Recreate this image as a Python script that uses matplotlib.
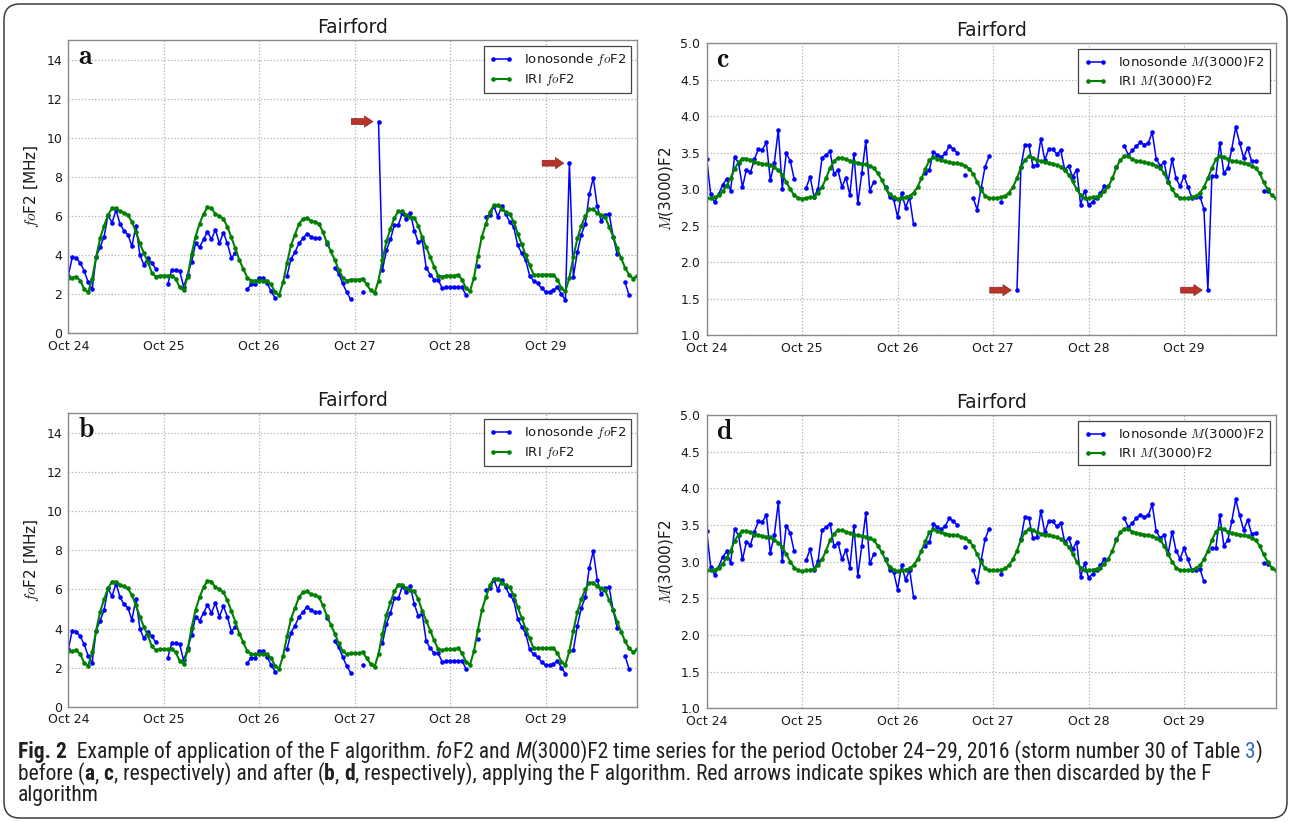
import numpy as np
import matplotlib
matplotlib.use('Agg')
import matplotlib.pyplot as plt
import matplotlib.dates as mdates
from matplotlib import font_manager as fm
from matplotlib.patches import FancyBboxPatch
from matplotlib.ticker import FormatStrFormatter

nan = np.nan

# hourly time axis, Oct 24 00:00 - Oct 29 23:00 2016
times = np.arange(np.datetime64('2016-10-24T00:00'), np.datetime64('2016-10-30T00:00'),
                  np.timedelta64(1, 'h'))
day_ticks = np.arange(np.datetime64('2016-10-24'), np.datetime64('2016-10-30'), np.timedelta64(1, 'D'))

# ionosonde foF2 [MHz] (before the F algorithm)
fof2_iono = [
    2.95, 3.9, 3.85, 3.6, 3.2, 2.6, 2.25, 3.9, 4.4, 4.95, 6.05, 5.65, 6.3, 5.6, 5.25, 5.05, 4.45, 5.5, 4.0, 3.5, 3.85, 3.6, 3.3, nan,
    nan, 2.5, 3.24, 3.24, 3.2, 2.38, 3.0, 3.66, 4.6, 4.4, 4.8, 5.2, 4.8, 5.3, 4.6, 5.15, 4.6, 3.85, 4.1, nan, nan, 2.25, 2.5, 2.5,
    2.85, 2.85, 2.55, 2.15, 1.8, nan, nan, 2.95, 3.8, 4.15, 4.6, 4.85, 5.1, 4.95, 4.85, 4.85, nan, 4.55, nan, 3.35, 3.05, 2.55, 2.1, 1.75,
    nan, nan, 2.13, nan, nan, nan, 10.83, 3.25, 4.25, 4.8, 5.55, 5.55, 6.15, 5.85, 6.15, 5.25, 4.65, 4.75, 3.35, 3.0, 2.75, 2.75, 2.3, 2.35,
    2.35, 2.35, 2.35, 2.35, 1.95, nan, nan, 3.45, nan, 5.97, 6.05, 6.5, 5.97, 6.5, 6.1, 5.7, 5.45, 4.5, 4.1, 3.75, 2.95, 2.68, 2.55, 2.3,
    2.13, 2.13, 2.2, 2.35, 2.0, 1.7, 8.7, 2.9, 4.15, 5.05, 5.6, 7.1, 7.95, 6.5, 5.75, 6.05, 6.1, 4.95, 4.05, nan, 2.6, 1.95, nan, nan,
]

# IRI foF2 [MHz]
fof2_iri = [
    2.85, 2.85, 2.9, 2.7, 2.25, 2.1, 2.8, 3.9, 4.85, 5.5, 6.05, 6.4, 6.4, 6.25, 6.15, 6.05, 5.7, 5.2, 4.6, 4.1, 3.65, 3.1, 2.9, 2.95,
    2.95, 2.95, 2.95, 2.8, 2.35, 2.2, 2.9, 4.05, 4.95, 5.6, 6.1, 6.45, 6.4, 6.1, 6.0, 5.85, 5.45, 4.9, 4.35, 3.75, 3.3, 2.85, 2.7, 2.7,
    2.7, 2.7, 2.7, 2.5, 2.1, 1.95, 2.6, 3.6, 4.5, 5.05, 5.6, 5.85, 5.9, 5.75, 5.7, 5.6, 5.2, 4.65, 4.2, 3.75, 3.25, 2.85, 2.7, 2.75,
    2.75, 2.75, 2.8, 2.5, 2.2, 2.05, 2.7, 3.75, 4.7, 5.35, 5.9, 6.25, 6.25, 6.05, 5.95, 5.9, 5.5, 4.9, 4.4, 3.9, 3.4, 2.95, 2.9, 2.95,
    2.95, 2.95, 3.0, 2.75, 2.3, 2.15, 2.85, 3.95, 4.95, 5.6, 6.2, 6.55, 6.55, 6.35, 6.2, 6.1, 5.7, 5.1, 4.55, 4.0, 3.5, 3.0, 3.0, 3.0,
    3.0, 3.0, 3.0, 2.75, 2.3, 2.15, 2.85, 3.9, 4.85, 5.5, 6.0, 6.35, 6.35, 6.15, 6.05, 5.95, 5.45, 4.95, 4.35, 3.85, 3.35, 3.0, 2.8, 2.95,
]

# ionosonde M(3000)F2 (before the F algorithm)
m3000_iono = [
    3.42, 2.93, 2.82, 2.93, 3.06, 3.14, 2.98, 3.44, 3.36, 3.03, 3.27, 3.23, 3.41, 3.55, 3.54, 3.64, 3.12, 3.36, 3.81, 3.01, 3.49, 3.39, 3.14, nan,
    nan, 3.02, 3.17, 2.89, 3.01, 3.43, 3.47, 3.52, 3.21, 3.26, 3.03, 3.16, 2.92, 3.48, 2.81, 3.22, 3.66, 2.98, 3.10, nan, nan, 3.03, 2.89, 2.86,
    2.62, 2.95, 2.75, 2.89, 2.52, nan, nan, 3.22, 3.27, 3.51, 3.47, 3.44, 3.49, 3.59, 3.55, 3.50, nan, 3.20, nan, 2.88, 2.72, 3.02, 3.31, 3.45,
    nan, nan, 2.83, nan, nan, nan, 1.62, 3.31, 3.61, 3.60, 3.32, 3.33, 3.69, 3.40, 3.55, 3.55, 3.48, 3.53, 3.27, 3.32, 3.17, 3.27, 2.79, 2.98,
    2.78, 2.83, 2.88, 2.95, 3.04, nan, nan, 3.31, nan, 3.59, 3.47, 3.53, 3.59, 3.64, 3.61, 3.63, 3.78, 3.42, 3.32, 3.37, 3.10, 3.41, 3.15, 3.04,
    3.18, 3.03, 2.88, 2.89, 2.90, 2.73, 1.62, 3.18, 3.18, 3.63, 3.22, 3.29, 3.55, 3.85, 3.63, 3.43, 3.57, 3.38, 3.39, nan, 2.98, 2.97, nan, nan,
]

# IRI M(3000)F2
m3000_iri = [
    2.88, 2.88, 2.89, 2.92, 2.97, 3.05, 3.15, 3.28, 3.37, 3.42, 3.42, 3.40, 3.37, 3.36, 3.35, 3.34, 3.33, 3.30, 3.26, 3.20, 3.10, 3.00, 2.92, 2.88,
    2.87, 2.88, 2.89, 2.90, 2.95, 3.03, 3.15, 3.29, 3.38, 3.43, 3.43, 3.41, 3.39, 3.37, 3.36, 3.35, 3.34, 3.32, 3.29, 3.22, 3.13, 3.02, 2.93, 2.89,
    2.87, 2.88, 2.89, 2.91, 2.95, 3.03, 3.15, 3.28, 3.40, 3.44, 3.42, 3.40, 3.38, 3.37, 3.36, 3.36, 3.34, 3.32, 3.28, 3.21, 3.10, 2.99, 2.91, 2.88,
    2.88, 2.88, 2.89, 2.91, 2.95, 3.03, 3.15, 3.30, 3.40, 3.45, 3.43, 3.40, 3.38, 3.37, 3.36, 3.35, 3.33, 3.31, 3.26, 3.20, 3.11, 3.00, 2.92, 2.88,
    2.88, 2.89, 2.90, 2.92, 2.97, 3.04, 3.15, 3.30, 3.40, 3.45, 3.45, 3.41, 3.39, 3.38, 3.37, 3.36, 3.35, 3.32, 3.29, 3.22, 3.10, 3.00, 2.92, 2.88,
    2.88, 2.88, 2.89, 2.91, 2.95, 3.03, 3.15, 3.29, 3.41, 3.46, 3.44, 3.41, 3.39, 3.38, 3.37, 3.36, 3.35, 3.32, 3.29, 3.22, 3.10, 3.00, 2.92, 2.88,
]

# spikes flagged (red arrows) and discarded by the F algorithm
spike_times = [np.datetime64('2016-10-27T06:00'), np.datetime64('2016-10-29T06:00')]
spike_idx = [int(np.where(times == s)[0][0]) for s in spike_times]

fof2_after = np.array(fof2_iono, dtype=float)
m3000_after = np.array(m3000_iono, dtype=float)
fof2_after[spike_idx] = nan
m3000_after[spike_idx] = nan

TXT = '#1a1a1a'
fig = plt.figure(figsize=(12.9, 8.22), dpi=100)

W, H = 1290.0, 822.0


def axes_px(l, t, r, b):
    return fig.add_axes([l / W, 1 - b / H, (r - l) / W, (b - t) / H])


def panel(ax, iono, iri, lab1, lab2, ylabel, letter, ylim, yticks, yfmt):
    ax.plot(times, iono, '-o', color='#0000ff', lw=1.1, ms=3.3, mew=0, label=lab1)
    ax.plot(times, iri, '-o', color='#008000', lw=1.5, ms=3.3, mew=0, label=lab2)
    ax.set_xlim(times[0], times[-1])
    ax.set_ylim(*ylim)
    ax.set_yticks(yticks)
    ax.yaxis.set_major_formatter(FormatStrFormatter(yfmt))
    ax.set_xticks(day_ticks)
    ax.xaxis.set_major_formatter(mdates.DateFormatter('%b %d'))
    ax.grid(True, linestyle=':', color='#b0b0b0', lw=0.9)
    ax.tick_params(length=0, labelsize=9, colors=TXT, pad=4.5)
    for s in ax.spines.values():
        s.set_color('#8a8a8a')
        s.set_linewidth(1.0)
    ax.set_title('Fairford', fontsize=13.5, pad=5, color=TXT)
    ax.set_ylabel(ylabel, fontsize=11, color=TXT, math_fontfamily='cm', labelpad=4)
    ax.text(0.017, 0.917, letter, transform=ax.transAxes, fontsize=20, math_fontfamily='cm',
            color='#111111', va='baseline', ha='left')
    leg = ax.legend(loc='upper right', prop=fm.FontProperties(size=9.5, math_fontfamily='cm'),
                    numpoints=2, handlelength=1.8, fancybox=False, framealpha=1,
                    edgecolor='#444444', borderaxespad=0.45, borderpad=0.4,
                    labelspacing=0.3, handletextpad=0.8)
    leg.get_frame().set_linewidth(0.9)
    for t in leg.get_texts():
        t.set_color(TXT)


def arrows(ax, values):
    for i in spike_idx:
        tip = mdates.date2num(times[i] - np.timedelta64(85, 'm'))
        tail = mdates.date2num(times[i] - np.timedelta64(410, 'm'))
        ax.annotate('', xy=(tip, values[i]), xytext=(tail, values[i]),
                    arrowprops=dict(arrowstyle='simple,head_length=0.6,head_width=0.8,tail_width=0.42',
                                    fc='#b8332a', ec='#8c2219', lw=0.5, shrinkA=0, shrinkB=0))


ax_a = axes_px(68.3, 40, 637, 333.3)
ax_c = axes_px(706.7, 43, 1275.5, 335.5)
ax_b = axes_px(68.3, 413, 637, 707)
ax_d = axes_px(706.7, 415, 1275.5, 708.3)

fo_ticks = [0, 2, 4, 6, 8, 10, 12, 14]
m_ticks = [1.0, 1.5, 2.0, 2.5, 3.0, 3.5, 4.0, 4.5, 5.0]

panel(ax_a, fof2_iono, fof2_iri, r'Ionosonde $\mathit{fo}$F2', r'IRI $\mathit{fo}$F2',
      r'$\mathit{fo}$F2 [MHz]', r'$\mathbf{a}$', (0, 15), fo_ticks, '%d')
panel(ax_b, fof2_after, fof2_iri, r'Ionosonde $\mathit{fo}$F2', r'IRI $\mathit{fo}$F2',
      r'$\mathit{fo}$F2 [MHz]', r'$\mathbf{b}$', (0, 15), fo_ticks, '%d')
panel(ax_c, m3000_iono, m3000_iri, r'Ionosonde $M$(3000)F2', r'IRI $M$(3000)F2',
      r'$M$(3000)F2', r'$\mathbf{c}$', (1.0, 5.0), m_ticks, '%.1f')
panel(ax_d, m3000_after, m3000_iri, r'Ionosonde $M$(3000)F2', r'IRI $M$(3000)F2',
      r'$M$(3000)F2', r'$\mathbf{d}$', (1.0, 5.0), m_ticks, '%.1f')
arrows(ax_a, fof2_iono)
arrows(ax_c, m3000_iono)

# outer frame of the figure
frame = FancyBboxPatch((0.04, 0.04), 12.83, 8.14, boxstyle='round,pad=0,rounding_size=0.16',
                       transform=fig.dpi_scale_trans, fill=False, ec='#3c3c3c', lw=1.1)
fig.patches.append(frame)

# caption
names = {f.name for f in fm.fontManager.ttflist}
cap_font = next((n for n in ['Roboto Condensed', 'Liberation Sans Narrow', 'DejaVu Sans Condensed',
                             'Liberation Sans'] if n in names), 'DejaVu Sans')

N = dict()
B = dict(weight='bold')
I = dict(style='italic')
LINK = dict(color='#2f6fc0')
caption = [
    [('Fig. 2', B), ('  Example of application of the F algorithm. ', N), ('fo', I),
     ('F2 and ', N), ('M', I), ('(3000)F2 time series for the period October 24\u201329, 2016 (storm number 30 of Table ', N),
     ('3', LINK), (')', N)],
    [('before (', N), ('a', B), (', ', N), ('c', B), (', respectively) and after (', N), ('b', B), (', ', N),
     ('d', B), (', respectively), applying the F algorithm. Red arrows indicate spikes which are then discarded by the F', N)],
    [('algorithm', N)],
]
cap_baselines = [758, 780, 801]

renderer = fig.canvas.get_renderer()


def run_width(s, kw, size):
    a = fig.text(0, 0, '|' + s + '|', fontsize=size, family=cap_font, **kw)
    b = fig.text(0, 0, '||', fontsize=size, family=cap_font, **kw)
    w = a.get_window_extent(renderer).width - b.get_window_extent(renderer).width
    a.remove()
    b.remove()
    return w


size0 = 10.0
w0 = sum(run_width(s, kw, size0) for s, kw in caption[0])
cap_size = size0 * 1240.0 / w0

for line, yb in zip(caption, cap_baselines):
    x = 18.0
    for s, kw in line:
        kw2 = dict(color='#231f20')
        kw2.update(kw)
        fig.text(x / W, 1 - yb / H, s, fontsize=cap_size, family=cap_font, va='baseline', ha='left', **kw2)
        x += run_width(s, kw, cap_size)

fig.savefig('out.png', dpi=100)
